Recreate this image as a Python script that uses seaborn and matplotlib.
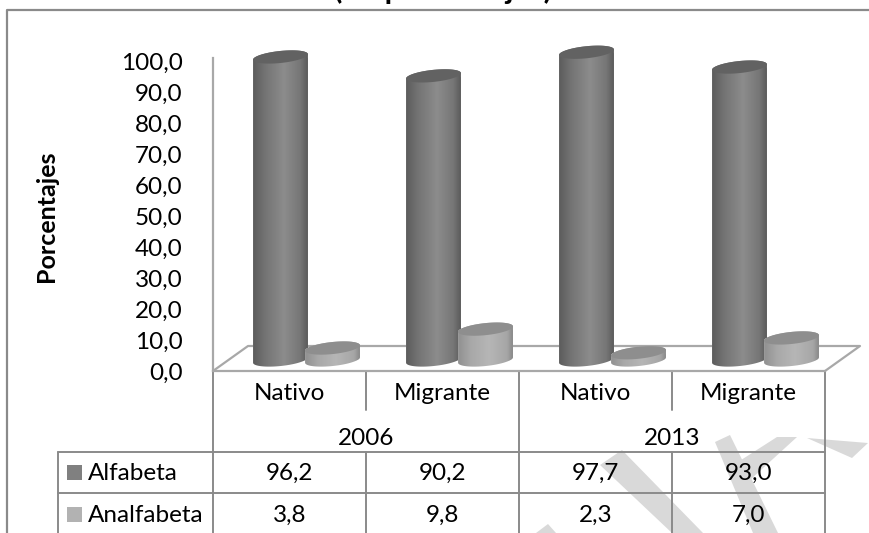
import numpy as np
import pandas as pd
import matplotlib
matplotlib.use("Agg")
import matplotlib.pyplot as plt
from matplotlib.colors import LinearSegmentedColormap
from matplotlib.patches import Polygon
import seaborn as sns

# Data
years = ["2006", "2013"]
groups = ["Nativo", "Migrante", "Nativo", "Migrante"]
alfabeta = [96.2, 90.2, 97.7, 93.0]
analfabeta = [3.8, 9.8, 2.3, 7.0]
y_ticks = [0, 10, 20, 30, 40, 50, 60, 70, 80, 90, 100]

W, H = 870, 533
LINE = "#8a8a8a"
LIGHT_LINE = "#a8a8a8"
MARK = "#d9d9d9"
TXT = 17.5

sns.set_theme(style="white")
plt.rcParams["font.family"] = ["Lato", "DejaVu Sans"]

keys = ["g0", "g1", "g2", "g3"]
df = pd.DataFrame({
    "Grupo": keys * 2,
    "Valor": alfabeta + analfabeta,
    "Serie": ["Alfabeta"] * 4 + ["Analfabeta"] * 4,
})

fig = plt.figure(figsize=(W / 100, H / 100), dpi=100, facecolor="white")


def box(left, top, right, bottom):
    return [left / W, 1 - bottom / H, (right - left) / W, (bottom - top) / H]


# Overlay in pixel units for frame, floor, table and watermark
ov = fig.add_axes([0, 0, 1, 1], zorder=0)
ov.set_xlim(0, W)
ov.set_ylim(H, 0)
ov.axis("off")

watermark = [
    [(600, 465), (622, 450), (703, 533), (672, 533)],
    [(715, 442), (730, 435), (778, 533), (753, 533)],
    [(777, 437), (797, 437), (750, 480), (738, 462)],
    [(807, 438), (868, 443), (852, 458)],
    [(536, 533), (548, 524), (556, 533)],
]
for pts in watermark:
    ov.add_patch(Polygon(pts, closed=True, fc=MARK, ec="none", zorder=1))

# Outer frame (right side is cropped away in the source)
ov.plot([7, 7, W], [H, 10, 10], color=LINE, lw=1.6, zorder=2)
ov.text(443, -1, "(En porcentajes)", ha="center", va="baseline", fontsize=22,
        fontweight="bold", color="black", clip_on=False)
ov.text(47, 216, "Porcentajes", rotation=90, ha="center", va="center",
        fontsize=18, fontweight="bold", color="black")

# Chart floor
ov.plot([213, 248, 860, 825], [371, 346, 346, 371], color=LIGHT_LINE, lw=1.6, zorder=2)

# Table grid
cols = [213, 366, 519, 672, 825]
for x in cols:
    full = x in (213, 519, 825)
    if full:
        ov.plot([x, x], [371, H], color=LINE, lw=1.4, zorder=2)
    else:
        ov.plot([x, x], [371, 410], color=LINE, lw=1.4, zorder=2)
        ov.plot([x, x], [452, H], color=LINE, lw=1.4, zorder=2)
ov.plot([58, 58], [452, H], color=LINE, lw=1.4, zorder=2)
for y in (452, 493):
    ov.plot([58, 825], [y, y], color=LINE, lw=1.4, zorder=2)

for i, year in enumerate(years):
    ov.text((cols[i * 2] + cols[i * 2 + 2]) / 2, 438.5, year, ha="center", va="center",
            fontsize=TXT, color="black", zorder=5)

rows = [("Alfabeta", alfabeta, 473, "#808080"), ("Analfabeta", analfabeta, 515, "#b2b2b2")]
for label, values, y, swatch in rows:
    ov.add_patch(plt.Rectangle((67, y - 8.5), 15, 15, fc=swatch, ec="none", zorder=4))
    ov.text(88, y, label, ha="left", va="center", fontsize=TXT, color="black", zorder=5)
    for i, v in enumerate(values):
        ov.text((cols[i] + cols[i + 1]) / 2, y, f"{v:.1f}".replace(".", ","), ha="center",
                va="center", fontsize=TXT, color="black", zorder=5)

# Value axis with floor front edge and category labels
ax = fig.add_axes(box(213, 61, 825, 371), zorder=1)
ax.patch.set_alpha(0)
ax.set_xlim(-0.5, 3.5)
ax.set_ylim(0, 100)
ax.set_yticks(y_ticks)
ax.set_yticklabels([f"{t:.1f}".replace(".", ",") for t in y_ticks], fontsize=TXT, color="black")
ax.set_xticks(range(4))
ax.set_xticklabels(groups, fontsize=TXT, color="black")
ax.tick_params(axis="y", length=0, pad=22)
ax.tick_params(axis="x", length=0, pad=9)
sns.despine(ax=ax, top=True, right=True)
for side in ("left", "bottom"):
    ax.spines[side].set_color(LIGHT_LINE)
    ax.spines[side].set_linewidth(1.6)
ax.spines["left"].set_bounds(0, 101)

# Bars sit on the floor, shifted into the depth of the fake 3D box
bx = fig.add_axes(box(230, 45, 842, 375.75), zorder=2)
bx.patch.set_alpha(0)
sns.barplot(data=df, x="Grupo", y="Valor", hue="Serie", order=keys,
            hue_order=["Alfabeta", "Analfabeta"],
            palette={"Alfabeta": "#808080", "Analfabeta": "#b2b2b2"},
            width=0.68, gap=-0.06, legend=False, ax=bx, saturation=1)
bx.set_xlim(-0.5, 3.5)
bx.set_ylim(-5, 100)
bx.axis("off")
bx.set_autoscale_on(False)

shades = [
    LinearSegmentedColormap.from_list("dark", [(0, "#565656"), (0.22, "#727272"), (0.55, "#8c8c8c"),
                                               (0.82, "#767676"), (1, "#4e4e4e")]),
    LinearSegmentedColormap.from_list("pale", [(0, "#8c8c8c"), (0.25, "#a8a8a8"), (0.55, "#b6b6b6"),
                                               (0.85, "#a6a6a6"), (1, "#767676")]),
]
lids = ["#626262", "#8e8e8e"]

A_TILT = np.radians(6)
RY = 6.0


def rim(cx, cy, a, t):
    xs = cx + a * np.cos(t) * np.cos(A_TILT) - RY * np.sin(t) * np.sin(A_TILT)
    ys = cy + a * np.cos(t) * np.sin(A_TILT) + RY * np.sin(t) * np.cos(A_TILT)
    return np.column_stack([xs, ys])


ramp = np.linspace(0, 1, 64).reshape(1, -1)
to_px = bx.transData
to_data = bx.transData.inverted()
bars = [p for p in bx.patches if p.get_width() > 0]
for n, bar in enumerate(bars):
    series = 0 if n < 4 else 1
    z = 3 + series * 3
    x0, x1 = bar.get_x(), bar.get_x() + bar.get_width()
    top = bar.get_height()
    (px0, py0), (px1, py1) = to_px.transform([(x0, 0), (x1, top)])
    cx, a = (px0 + px1) / 2, (px1 - px0) / 2
    t0 = np.arctan(-(RY / a) * np.tan(A_TILT))
    upper = rim(cx, py1, a, np.linspace(t0, t0 + np.pi, 40))
    lower = rim(cx, py0, a, np.linspace(t0 + np.pi, t0 + 2 * np.pi, 40))
    body = Polygon(to_data.transform(np.vstack([upper, lower])), closed=True,
                   fc="none", ec="none", transform=bx.transData)
    bx.add_patch(body)
    bar.set_clip_path(body)
    bar.set_zorder(z)
    img = bx.imshow(ramp, cmap=shades[series], aspect="auto", vmin=0, vmax=1,
                    extent=(x0 - 0.02, x1 + 0.02, -4.5, top + 3), zorder=z + 0.1, origin="lower")
    img.set_clip_path(body)
    lid = rim(cx, py1, a, np.linspace(0, 2 * np.pi, 80))
    bx.add_patch(Polygon(to_data.transform(lid), closed=True, fc=lids[series], ec="none",
                         zorder=z + 0.2))
bx.set_xlim(-0.5, 3.5)
bx.set_ylim(-5, 100)

fig.savefig("out.png", dpi=100)
